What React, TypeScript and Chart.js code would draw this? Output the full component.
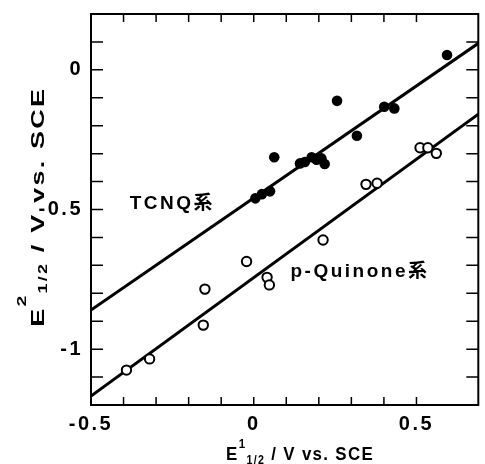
import React, { useEffect, useRef } from 'react';
import { Chart, registerables } from 'chart.js';
Chart.register(...registerables);

// TCNQ series (filled circles)
const tcnqX = [0.005, 0.025, 0.05, 0.063, 0.142, 0.157, 0.178, 0.193, 0.208, 0.218, 0.256, 0.317, 0.401, 0.432, 0.594];
const tcnqY = [-0.46, -0.445, -0.435, -0.313, -0.335, -0.33, -0.313, -0.322, -0.317, -0.337, -0.111, -0.236, -0.132, -0.138, 0.053];
// p-Quinone series (open circles)
const quinX = [-0.391, -0.32, -0.155, -0.15, -0.022, 0.041, 0.048, 0.213, 0.345, 0.379, 0.511, 0.535, 0.561];
const quinY = [-1.075, -1.035, -0.914, -0.785, -0.686, -0.743, -0.77, -0.609, -0.41, -0.406, -0.279, -0.279, -0.299];
// regression lines (end points)
const tcnqFitX = [-0.5, 0.69];
const tcnqFitY = [-0.86, 0.095];
const quinFitX = [-0.5, 0.69];
const quinFitY = [-1.168, -0.159];
// axes
const xMin = -0.5, xMax = 0.69, yMin = -1.2, yMax = 0.2;
const xLabelled = [-0.5, 0, 0.5];
const yLabelled = [0, -0.5, -1];
const tcnqLabel = 'TCNQ系';
const quinLabel = 'p-Quinone系';
const tcnqLabelPos = [-0.381, -0.48];
const quinLabelPos = [0.113, -0.724];

const FONT = '"Liberation Sans Narrow", "Liberation Sans", "Noto Sans CJK JP", sans-serif';
const LS = '2.5px';

const pts = (xs: number[], ys: number[]) => xs.map((x, i) => ({ x, y: ys[i] }));
const isStep = (v: number) => Math.abs(v * 10 - Math.round(v * 10)) < 1e-6;
const isLab = (v: number, list: number[]) => list.some((l) => Math.abs(l - v) < 1e-6);

type Part = { t: string; s: number; dy: number };
function richWidth(ctx: CanvasRenderingContext2D, parts: Part[]) {
  let w = 0;
  for (const p of parts) {
    ctx.font = `bold ${p.s}px ${FONT}`;
    w += ctx.measureText(p.t).width;
  }
  return w;
}
function drawRich(ctx: CanvasRenderingContext2D, parts: Part[], target: number) {
  const w = richWidth(ctx, parts);
  ctx.save();
  ctx.scale(target / w, 1);
  let cx = 0;
  for (const p of parts) {
    ctx.font = `bold ${p.s}px ${FONT}`;
    ctx.fillText(p.t, cx, p.dy);
    cx += ctx.measureText(p.t).width;
  }
  ctx.restore();
}

const decorPlugin = {
  id: 'decor',
  beforeDraw(chart: any) {
    (chart.ctx as any).letterSpacing = LS;
  },
  afterDatasetsDraw(chart: any) {
    const { ctx, chartArea: a, scales } = chart;
    const xs = scales.x, ys = scales.y;
    ctx.save();
    ctx.strokeStyle = '#000';
    ctx.lineWidth = 2;
    ctx.strokeRect(a.left, a.top, a.right - a.left, a.bottom - a.top);
    ctx.lineWidth = 1.5;
    ctx.beginPath();
    xs.ticks.forEach((t: any) => {
      if (!isStep(t.value)) return;
      const px = xs.getPixelForValue(t.value);
      if (px <= a.left + 1 || px >= a.right - 1) return;
      ctx.moveTo(px, a.bottom); ctx.lineTo(px, a.bottom - 8);
      ctx.moveTo(px, a.top); ctx.lineTo(px, a.top + 8);
    });
    ys.ticks.forEach((t: any) => {
      if (!isStep(t.value)) return;
      const py = ys.getPixelForValue(t.value);
      if (py <= a.top + 1 || py >= a.bottom - 1) return;
      ctx.moveTo(a.left, py); ctx.lineTo(a.left + 12, py);
      ctx.moveTo(a.right, py); ctx.lineTo(a.right - 12, py);
    });
    ctx.stroke();

    ctx.fillStyle = '#000';
    (ctx as any).letterSpacing = '2.5px';
    ctx.textAlign = 'left';
    ctx.textBaseline = 'middle';
    ctx.font = `bold 19px ${FONT}`;
    ctx.fillText(tcnqLabel, xs.getPixelForValue(tcnqLabelPos[0]), ys.getPixelForValue(tcnqLabelPos[1]));
    ctx.fillText(quinLabel, xs.getPixelForValue(quinLabelPos[0]), ys.getPixelForValue(quinLabelPos[1]));

    (ctx as any).letterSpacing = '1.5px';
    ctx.textBaseline = 'alphabetic';
    // x title
    ctx.save();
    ctx.translate(xs.getPixelForValue(-0.085), 460);
    drawRich(ctx, [
      { t: 'E', s: 19, dy: 0 },
      { t: '1', s: 13, dy: -12 },
      { t: '1/2', s: 12, dy: 4 },
      { t: ' / V vs. SCE', s: 19, dy: 0 },
    ], 148);
    ctx.restore();
    // y title
    ctx.save();
    ctx.translate(44, ys.getPixelForValue(-0.92));
    ctx.rotate(-Math.PI / 2);
    drawRich(ctx, [
      { t: 'E', s: 18, dy: 0 },
      { t: '2', s: 13, dy: -18 },
      { t: '1/2', s: 12, dy: 3 },
      { t: ' / V vs. SCE', s: 18, dy: 0 },
    ], 240);
    ctx.restore();
    ctx.restore();
  },
};

export default function App() {
  const ref = useRef<HTMLCanvasElement>(null);
  useEffect(() => {
    document.body.style.margin = '0';
    const chart = new Chart(ref.current!, {
      type: 'scatter',
      data: {
        datasets: [
          {
            label: 'TCNQ',
            data: pts(tcnqX, tcnqY),
            backgroundColor: '#000',
            borderColor: '#000',
            pointRadius: 5.3,
            borderWidth: 0,
            order: 0,
          },
          {
            label: 'p-Quinone',
            data: pts(quinX, quinY),
            backgroundColor: '#fff',
            borderColor: '#000',
            pointRadius: 4.7,
            borderWidth: 2,
            order: 0,
          },
          {
            type: 'line',
            label: 'TCNQ fit',
            data: pts(tcnqFitX, tcnqFitY),
            borderColor: '#000',
            borderWidth: 3,
            pointRadius: 0,
            showLine: true,
            fill: false,
            order: 1,
          },
          {
            type: 'line',
            label: 'Quinone fit',
            data: pts(quinFitX, quinFitY),
            borderColor: '#000',
            borderWidth: 3,
            pointRadius: 0,
            showLine: true,
            fill: false,
            order: 1,
          },
        ] as any,
      },
      options: {
        animation: false,
        responsive: true,
        maintainAspectRatio: false,
        layout: { padding: { left: 0, right: 0, top: 14, bottom: 0 } },
        plugins: { legend: { display: false }, tooltip: { enabled: false } },
        scales: {
          x: {
            type: 'linear',
            min: xMin,
            max: xMax,
            grid: { display: false, drawTicks: false },
            border: { display: false },
            ticks: {
              stepSize: 0.1,
              autoSkip: false,
              maxRotation: 0,
              padding: 7,
              color: '#000',
              font: { family: FONT, size: 20, weight: 'bold' },
              callback: (v: any) => (isLab(Number(v), xLabelled) ? String(Math.round(Number(v) * 10) / 10) : ''),
            },
            afterFit: (s: any) => { s.height = 59; s.paddingLeft = 0; s.paddingRight = 0; },
          },
          y: {
            type: 'linear',
            min: yMin,
            max: yMax,
            grid: { display: false, drawTicks: false },
            border: { display: false },
            ticks: {
              stepSize: 0.1,
              autoSkip: false,
              padding: 8,
              color: '#000',
              font: { family: FONT, size: 20, weight: 'bold' },
              callback: (v: any) => (isLab(Number(v), yLabelled) ? String(Math.round(Number(v) * 10) / 10) : ''),
            },
            afterFit: (s: any) => { s.width = 91; s.paddingTop = 0; s.paddingBottom = 0; },
          },
        },
      },
      plugins: [decorPlugin],
    });
    return () => chart.destroy();
  }, []);
  return (
    <div style={{ width: 485, height: 464, position: 'relative' }}>
      <canvas ref={ref} />
    </div>
  );
}
